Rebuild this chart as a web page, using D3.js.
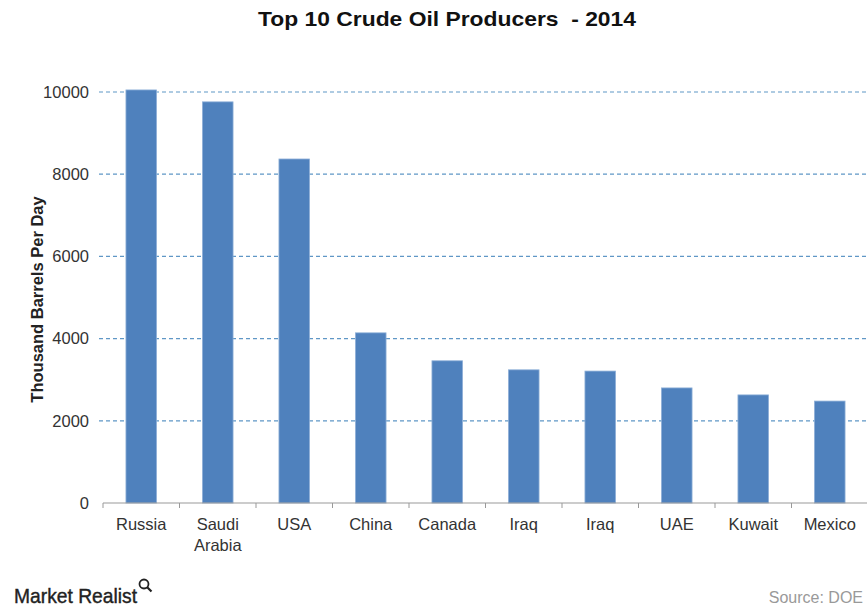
<!DOCTYPE html>
<html>
<head>
<meta charset="utf-8">
<script src="https://cdn.jsdelivr.net/npm/d3@7"></script>
<style>
  body { margin: 0; background: #fff; }
  svg { font-family: "Liberation Sans", Arial, sans-serif; }
</style>
</head>
<body>
<div class="chart"></div>
<script>
/** chart data */
const countries = ['Russia', 'Saudi Arabia', 'USA', 'China', 'Canada', 'Iraq', 'Iraq', 'UAE', 'Kuwait', 'Mexico'];
const production = [10050, 9760, 8370, 4140, 3460, 3240, 3210, 2800, 2630, 2480];
const yTicks = [0, 2000, 4000, 6000, 8000, 10000];

/** canvas */
let width = 867, height = 607;
let margin = { top: 92, right: -1, bottom: 104, left: 103 };
let draw_width = width - margin.left - margin.right;
let draw_height = height - margin.top - margin.bottom;

let svg = d3.select('.chart').append('svg')
    .attr('width', width)
    .attr('height', height);

let canvas = svg.append('g')
    .attr('transform', `translate(${margin.left}, ${margin.top})`);

/** scales */
let xScale = d3.scaleBand()
    .domain(d3.range(countries.length))
    .range([0, draw_width])
    .paddingInner(0.6)
    .paddingOuter(0.3);

let yScale = d3.scaleLinear()
    .domain([0, 10000])
    .range([draw_height, 0]);

/** gridlines */
canvas.selectAll('.grid')
    .data(yTicks.filter(d => d > 0))
    .enter()
    .append('line')
    .attr('class', 'grid')
    .attr('x1', -4)
    .attr('x2', draw_width)
    .attr('y1', d => yScale(d))
    .attr('y2', d => yScale(d))
    .attr('stroke', '#5f97c6')
    .attr('stroke-width', 1.2)
    .attr('stroke-dasharray', '4,3');

/** y tick labels */
canvas.selectAll('.ylab')
    .data(yTicks)
    .enter()
    .append('text')
    .attr('x', -14)
    .attr('y', d => yScale(d))
    .attr('dy', '0.35em')
    .attr('text-anchor', 'end')
    .style('font-size', '16.5px')
    .style('fill', '#333')
    .text(d => d);

/** bars */
canvas.selectAll('.bar')
    .data(production)
    .enter()
    .append('rect')
    .attr('class', 'bar')
    .attr('x', (d, i) => xScale(i))
    .attr('y', d => yScale(d))
    .attr('width', xScale.bandwidth())
    .attr('height', d => draw_height - yScale(d))
    .attr('fill', '#4f81bd')
    .attr('stroke', '#8fb0d8')
    .attr('stroke-width', 0.8);

/** x axis */
let step = xScale.step();
let xAxis = canvas.append('g')
    .attr('transform', `translate(0, ${draw_height})`);
xAxis.append('line')
    .attr('x1', 0).attr('x2', draw_width)
    .attr('stroke', '#999');
xAxis.selectAll('.tick')
    .data(d3.range(countries.length + 1))
    .enter()
    .append('line')
    .attr('x1', i => i * step)
    .attr('x2', i => i * step)
    .attr('y1', 0).attr('y2', 5)
    .attr('stroke', '#999');

xAxis.selectAll('.xlab')
    .data(countries)
    .enter()
    .append('text')
    .attr('text-anchor', 'middle')
    .attr('transform', (d, i) => `translate(${xScale(i) + xScale.bandwidth() / 2}, 27)`)
    .style('font-size', '16.5px')
    .style('fill', '#333')
    .each(function (d) {
        let words = d === 'Saudi Arabia' ? ['Saudi', 'Arabia'] : [d];
        d3.select(this).selectAll('tspan')
            .data(words)
            .enter()
            .append('tspan')
            .attr('x', 0)
            .attr('dy', (w, j) => j === 0 ? 0 : '1.3em')
            .text(w => w);
    });

/** title and axis title */
svg.append('text')
    .attr('x', 447)
    .attr('y', 26)
    .attr('text-anchor', 'middle')
    .attr('textLength', 378)
    .attr('lengthAdjust', 'spacingAndGlyphs')
    .style('font-size', '21px')
    .style('font-weight', 'bold')
    .style('fill', '#111')
    .style('white-space', 'pre')
    .text('Top 10 Crude Oil Producers  - 2014');

svg.append('text')
    .attr('transform', `translate(43, ${margin.top + draw_height / 2 + 2}) rotate(-90)`)
    .attr('text-anchor', 'middle')
    .style('font-size', '16.5px')
    .style('font-weight', 'bold')
    .style('fill', '#222')
    .text('Thousand Barrels Per Day');

/** footer */
svg.append('text')
    .attr('x', 14)
    .attr('y', 603)
    .attr('textLength', 123)
    .attr('lengthAdjust', 'spacingAndGlyphs')
    .style('font-size', '21px')
    .style('fill', '#222')
    .style('stroke', '#222')
    .style('stroke-width', 0.4)
    .text('Market Realist');

let icon = svg.append('g').attr('transform', 'translate(144, 584)');
icon.append('circle')
    .attr('r', 4.5)
    .attr('fill', 'none')
    .attr('stroke', '#222')
    .attr('stroke-width', 1.8);
icon.append('line')
    .attr('x1', 3).attr('y1', 3).attr('x2', 7.5).attr('y2', 7.5)
    .attr('stroke', '#222')
    .attr('stroke-width', 2.2);

svg.append('text')
    .attr('x', 863)
    .attr('y', 603)
    .attr('text-anchor', 'end')
    .style('font-size', '16px')
    .style('fill', '#999')
    .text('Source: DOE');
</script>
</body>
</html>
